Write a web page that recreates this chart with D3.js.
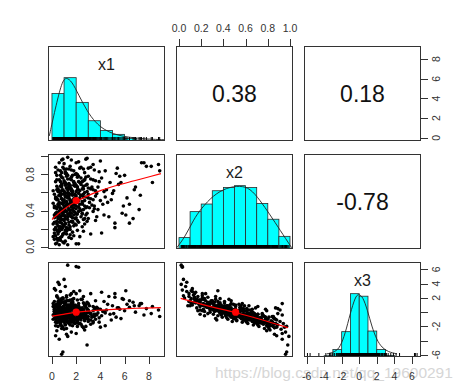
<!DOCTYPE html>
<html><head><meta charset="utf-8">
<script src="https://cdn.jsdelivr.net/npm/d3@7"></script>
<style>body{margin:0;background:#fff}svg{display:block}</style>
</head><body>
<script>
// ---------- data ----------
const varNames = ["x1", "x2", "x3"];
const varRanges = [[0.03, 8.98], [0.012, 0.988], [-5.8, 6.55]];

const corrPairs = [[0, 1], [0, 2], [1, 2]];
const corrValues = ["0.38", "0.18", "-0.78"];

const x1Ticks = [0, 2, 4, 6, 8];
const x2Ticks = [0, 0.2, 0.4, 0.6, 0.8, 1.0];
const x3Ticks = [-6, -4, -2, 0, 2, 4, 6];
const x2LeftLabels = [0, 0.4, 0.8];
const x3RightLabels = [-6, -2, 2, 4, 6];

// histogram bins [lo, hi, relative height]
const histX1 = [[0,1,0.75],[1,2,1.0],[2,3,0.61],[3,4,0.32],[4,5,0.165],[5,6,0.105],[6,7,0.04],[7,8,0.015],[8,9,0.008]];
const histX2 = [[0,0.1,0.18],[0.1,0.2,0.59],[0.2,0.3,0.71],[0.3,0.4,0.92],[0.4,0.5,0.97],[0.5,0.6,1.0],[0.6,0.7,0.97],[0.7,0.8,0.72],[0.8,0.9,0.47],[0.9,1.0,0.2]];
const histX3 = [[-6,-5,0.004],[-5,-4,0.005],[-4,-3,0.02],[-3,-2,0.12],[-2,-1,0.40],[-1,0,1.0],[0,1,0.96],[1,2,0.41],[2,3,0.12],[3,4,0.025],[4,5,0.005],[5,6,0.003],[6,7,0.004]];

// density curves [value, relative density]
const densX1 = [[-0.22,0.08],[0.26,0.5],[0.82,0.94],[1.18,1.01],[1.65,0.94],[2.2,0.73],[2.9,0.47],[3.6,0.29],[4.3,0.18],[5.1,0.11],[5.95,0.07],[6.8,0.05],[7.9,0.03],[9.26,0.02]];
const densX2 = [[-0.02,0.02],[0.054,0.19],[0.13,0.46],[0.20,0.64],[0.31,0.85],[0.43,0.97],[0.55,1.0],[0.64,0.96],[0.73,0.77],[0.82,0.54],[0.91,0.30],[1.015,0.02]];
const densX3 = [[-3.67,0.05],[-2.73,0.08],[-2.16,0.16],[-1.59,0.37],[-1.02,0.69],[-0.45,0.95],[-0.08,1.0],[0.42,0.95],[0.94,0.74],[1.44,0.48],[2.0,0.27],[2.58,0.15],[3.3,0.08],[4.3,0.05]];

// lowess smooths
const lowess21 = [[0.0,0.30],[0.68,0.38],[1.37,0.45],[2.0,0.50],[2.9,0.56],[4.0,0.62],[5.4,0.68],[6.8,0.73],[8.2,0.78],[9.0,0.81]];
const lowess31 = [[0.0,-0.55],[0.95,-0.32],[2.0,0.0],[3.0,0.15],[4.0,0.28],[5.5,0.42],[7.0,0.55],[9.0,0.65]];
const lowess32 = [[0.015,1.95],[0.25,0.93],[0.51,-0.05],[0.73,-1.0],[0.98,-2.17]];
const varMeans = [2.0, 0.51, 0.0];

// observations [x1, x2, x3]
const obs = [
[0.4,0.04,2.3],[1.3,0.02,6.6],[2.0,0.03,6.4],[2.2,0.03,6.3],[0.7,0.07,2.9],[0.2,0.08,0.9],[1.1,0.06,3.6],[0.5,0.09,1.5],[0.9,0.05,2.0],[0.3,0.03,3.1],[1.6,0.09,2.6],[0.6,0.02,3.9],
[0.3,0.12,1.0],[1.2,0.14,2.1],[0.8,0.11,1.9],[2.1,0.18,1.7],[0.5,0.16,0.6],[1.5,0.13,2.4],[0.2,0.19,0.3],[1.0,0.15,1.3],[2.6,0.17,2.2],[0.7,0.10,1.6],[1.8,0.12,2.9],[0.4,0.18,1.1],[1.3,0.19,0.8],[3.2,0.14,2.6],[0.9,0.13,1.4],[0.6,0.17,0.2],[1.7,0.16,1.8],[0.1,0.11,1.2],[1.1,0.18,1.5],[2.3,0.11,3.0],[0.5,0.14,2.0],[1.4,0.10,0.9],[0.8,0.19,-0.3],[4.1,0.15,2.8],
[0.6,0.22,0.9],[1.4,0.24,1.6],[2.2,0.27,1.2],[0.3,0.21,0.2],[1.0,0.29,0.5],[1.8,0.23,1.9],[0.8,0.26,-0.2],[2.9,0.28,1.4],[0.4,0.25,1.1],[1.2,0.21,2.3],[1.6,0.28,0.3],[0.2,0.27,0.6],[2.5,0.22,1.8],[0.9,0.24,0.8],[1.1,0.26,1.4],[3.6,0.29,1.6],[0.5,0.23,-0.5],[1.9,0.25,0.7],[0.7,0.29,1.3],[1.3,0.20,1.0],[2.0,0.24,2.6],[0.4,0.28,0.0],[1.5,0.22,0.4],[5.2,0.26,2.1],[0.6,0.20,1.7],[1.7,0.27,1.1],[1.0,0.23,0.1],[2.7,0.25,0.9],[0.9,0.21,2.0],
[0.5,0.31,0.3],[1.3,0.33,0.9],[2.1,0.36,0.6],[0.8,0.38,-0.4],[1.7,0.32,1.4],[2.8,0.35,1.0],[0.3,0.37,-0.1],[1.1,0.34,0.2],[3.4,0.39,0.8],[1.9,0.31,0.5],[0.6,0.36,1.1],[2.4,0.33,1.8],[1.5,0.38,0.0],[0.9,0.30,0.7],[4.3,0.35,1.5],[1.2,0.39,-0.7],[2.0,0.32,0.2],[0.4,0.34,0.8],[1.6,0.37,1.3],[2.6,0.30,0.4],[0.7,0.33,-0.9],[1.4,0.36,0.5],[3.0,0.31,1.2],[1.0,0.38,0.9],[2.2,0.39,-0.2],[0.2,0.32,0.1],[1.8,0.35,-0.5],[5.8,0.37,1.9],[1.3,0.30,1.6],[0.8,0.34,0.4],[2.5,0.36,0.1],[1.1,0.31,-0.3],[3.7,0.33,0.7],[0.6,0.39,0.6],[1.9,0.38,1.0],[1.5,0.34,-1.1],[2.9,0.37,-0.1],
[0.4,0.42,-0.5],[1.2,0.44,0.2],[2.3,0.47,0.6],[0.9,0.41,-0.1],[1.8,0.48,-0.6],[3.1,0.43,0.9],[0.6,0.46,0.3],[1.5,0.40,0.8],[2.7,0.45,-0.2],[1.0,0.49,-0.9],[2.0,0.42,0.4],[0.3,0.44,-1.0],[1.6,0.47,1.2],[3.8,0.41,0.5],[1.3,0.45,-0.4],[2.5,0.48,0.1],[0.7,0.43,0.6],[1.9,0.46,-0.3],[4.6,0.49,1.1],[1.1,0.40,0.0],[2.2,0.44,0.9],[0.5,0.47,-0.7],[1.4,0.42,0.3],[3.3,0.46,-0.5],[0.8,0.48,0.2],[1.7,0.41,1.5],[2.9,0.44,0.3],[1.0,0.45,0.7],[2.1,0.49,-0.1],[6.4,0.47,1.6],[0.2,0.43,0.1],[1.5,0.48,-1.3],[2.4,0.40,0.0],[1.2,0.46,1.0],[3.5,0.42,-0.3],[0.6,0.49,-0.2],[1.8,0.43,-0.8],[2.6,0.41,1.3],[1.3,0.47,0.4],
[0.5,0.52,-0.6],[1.4,0.54,-0.1],[2.4,0.57,0.3],[0.9,0.51,-1.0],[1.9,0.58,0.5],[3.2,0.53,-0.2],[0.7,0.56,0.2],[1.6,0.50,-0.8],[2.8,0.55,0.7],[1.1,0.59,-0.4],[2.1,0.52,-1.2],[0.4,0.54,0.1],[1.7,0.57,-0.5],[4.0,0.51,0.4],[1.3,0.55,0.6],[2.6,0.58,-0.3],[0.8,0.53,-0.1],[2.0,0.56,-0.9],[5.0,0.59,0.9],[1.2,0.50,0.3],[2.3,0.54,0.0],[0.6,0.57,-1.4],[1.5,0.52,-0.2],[3.6,0.56,0.5],[1.0,0.58,0.1],[1.8,0.51,0.8],[3.0,0.54,-0.6],[1.1,0.55,-0.7],[2.2,0.59,0.2],[7.3,0.57,1.2],[0.3,0.53,-0.3],[1.6,0.58,-1.1],[2.5,0.50,-0.4],[1.4,0.56,0.9],[3.4,0.52,0.2],[0.7,0.59,-0.5],[1.9,0.53,-0.2],[2.7,0.51,1.0],[1.3,0.57,-0.8],[4.4,0.55,-0.1],[2.0,0.50,0.4],
[0.6,0.62,-1.1],[1.5,0.64,-0.5],[2.6,0.67,-0.1],[1.0,0.61,-1.4],[2.0,0.68,-0.2],[3.4,0.63,-0.6],[0.8,0.66,-0.2],[1.7,0.60,-1.2],[3.0,0.65,0.3],[1.2,0.69,-0.9],[2.3,0.62,-1.6],[0.5,0.64,-0.4],[1.9,0.67,-1.0],[4.3,0.61,0.1],[1.4,0.65,0.0],[2.8,0.68,-0.8],[0.9,0.63,-0.5],[2.1,0.66,-1.3],[5.5,0.69,0.6],[1.3,0.60,-0.3],[2.5,0.64,-0.7],[0.7,0.67,-1.8],[1.6,0.62,-0.6],[3.8,0.66,-0.1],[1.1,0.68,-0.4],[2.0,0.61,0.2],[3.2,0.64,-1.1],[1.2,0.65,-1.0],[2.4,0.69,-0.5],[6.8,0.63,0.9],[0.4,0.63,-0.8],[1.8,0.68,-1.5],[2.7,0.60,-0.9],[1.5,0.66,0.4],[3.6,0.62,-0.3],[0.8,0.69,-1.2],[2.2,0.63,-0.2],[2.9,0.61,0.5],[1.4,0.67,-1.3],
[0.7,0.72,-1.5],[1.6,0.74,-0.9],[2.8,0.77,-0.6],[1.1,0.71,-1.8],[2.2,0.78,-0.7],[3.6,0.73,-1.0],[0.9,0.76,-0.5],[1.9,0.70,-1.6],[3.2,0.75,-0.2],[1.3,0.79,-1.4],[2.5,0.72,-2.0],[0.6,0.74,-0.8],[2.1,0.77,-1.2],[4.8,0.71,-0.3],[1.5,0.75,-0.4],[3.0,0.78,-1.3],[1.0,0.73,-1.1],[2.4,0.76,-1.7],[6.0,0.79,0.2],[1.4,0.70,-0.6],[2.7,0.74,-1.1],[0.8,0.77,-2.3],[1.8,0.72,-1.0],[4.1,0.76,-0.5],[1.2,0.78,-0.9],[2.3,0.71,-0.3],[3.4,0.74,-1.5],[1.7,0.79,-1.9],[2.6,0.73,-0.8],
[0.8,0.82,-1.9],[1.8,0.84,-1.3],[3.0,0.87,-1.0],[1.2,0.81,-2.3],[2.4,0.88,-1.1],[3.9,0.83,-1.4],[1.0,0.86,-0.9],[2.1,0.80,-2.0],[3.5,0.85,-0.6],[1.5,0.89,-1.8],[2.7,0.82,-2.5],[0.7,0.84,-1.5],[2.3,0.87,-1.6],[5.3,0.81,-0.7],[1.6,0.85,-0.8],[3.2,0.88,-1.7],[1.1,0.83,-1.2],[2.6,0.86,-2.2],[8.2,0.89,-0.2],[1.9,0.80,-1.0],[4.4,0.84,-1.9],
[1.0,0.92,-2.4],[2.2,0.94,-1.6],[3.4,0.91,-1.3],[1.6,0.96,-2.8],[2.8,0.97,-2.0],[0.9,0.97,-5.6],[0.8,0.96,-5.9],[2.9,0.98,-4.6],[7.6,0.93,-0.4],[8.8,0.91,0.3],[1.3,0.99,-3.4],[4.0,0.95,-2.1],[2.0,0.93,-3.0],
[7.2,0.41,0.9],[6.7,0.31,1.4],[6.4,0.26,0.7],[7.8,0.89,0.5],[8.3,0.71,0.8],[6.2,0.54,1.1],[5.6,0.78,0.4],[5.9,0.45,1.8],[5.1,0.62,-0.2],[4.7,0.33,2.2],[6.9,0.66,0.0],[5.4,0.87,0.6],[8.9,0.84,-0.6],[6.1,0.35,3.0],[5.2,0.21,2.6],[7.4,0.93,1.2],[4.9,0.52,-1.1],[5.7,0.71,-0.9],
[0.3,0.88,-3.3],[0.6,0.93,-3.8],[1.2,0.86,-3.1],[0.4,0.79,-2.6],[0.2,0.12,3.3],[0.5,0.07,4.2],[1.0,0.04,4.6],
[0.2,0.35,0.4],[0.3,0.55,-0.7],[0.1,0.62,-1.0],[0.2,0.45,-0.2],[0.1,0.25,0.8],[0.3,0.72,-1.4],[0.2,0.15,1.5],[0.1,0.48,-0.4],[0.3,0.82,-1.9],[0.2,0.58,-0.9],
[0.4,0.38,0.3],[0.5,0.61,-0.8],[0.4,0.52,-0.3],[0.6,0.27,0.9],[0.5,0.44,0.0],[0.4,0.67,-1.2],[0.6,0.19,1.4],[0.5,0.33,0.5],[0.4,0.74,-1.5],[0.6,0.57,-0.6],[0.5,0.85,-2.0],[0.4,0.09,2.2],
[0.7,0.41,0.1],[0.8,0.58,-0.5],[0.7,0.31,0.6],[0.9,0.47,-0.3],[0.8,0.69,-1.0],[0.7,0.22,1.2],[0.9,0.36,0.4],[0.8,0.53,-0.2],[0.7,0.79,-1.6],[0.9,0.14,1.8],[0.8,0.62,-0.9],[0.9,0.88,-2.1],
[1.0,0.43,0.2],[1.1,0.56,-0.4],[1.0,0.34,0.7],[1.2,0.65,-0.8],[1.1,0.25,1.1],[1.0,0.71,-1.3],[1.2,0.49,-0.1],[1.1,0.39,0.4],[1.0,0.61,-0.6],[1.2,0.17,1.6],[1.1,0.81,-1.7],[1.0,0.52,0.1],
[1.3,0.46,0.0],[1.4,0.59,-0.3],[1.3,0.36,0.6],[1.5,0.68,-0.9],[1.4,0.27,1.0],[1.3,0.75,-1.2],[1.5,0.51,-0.5],[1.4,0.41,0.3],[1.3,0.63,-0.7],[1.5,0.19,1.7],[1.4,0.86,-1.6],[1.3,0.54,0.2],
[1.6,0.44,0.4],[1.7,0.62,-0.5],[1.6,0.33,0.8],[1.8,0.71,-1.1],[1.7,0.28,1.3],[1.6,0.77,-1.4],[1.8,0.53,0.0],[1.7,0.46,-0.2],[1.6,0.64,-0.9],[1.8,0.39,0.6],[1.9,0.57,-0.4],
[2.0,0.45,0.3],[2.1,0.63,-0.6],[2.0,0.36,0.9],[2.2,0.72,-1.0],[2.1,0.29,0.6],[2.0,0.81,-1.5],[2.2,0.51,-0.2],[2.3,0.42,0.5],[2.1,0.66,-0.3],[2.4,0.57,-0.8],
[2.5,0.47,0.0],[2.6,0.64,-0.5],[2.5,0.37,0.6],[2.7,0.74,-1.2],[2.6,0.55,0.3],[2.8,0.43,-0.4],[2.9,0.69,-0.9],[2.7,0.31,1.1],[3.0,0.58,0.2],[3.1,0.49,-0.1],[3.3,0.66,-0.7],[3.5,0.45,0.6],[3.7,0.59,-0.4],[3.9,0.72,-0.8],[4.2,0.47,0.1],[4.5,0.63,0.3]
];

// ---------- layout ----------
const FONT = "'Liberation Sans', Arial, Helvetica, sans-serif";
const lefts = [48, 176, 304], tops = [46, 154, 262];
const PW = 117, PH = 95;
const ext = r => { const d = r[1] - r[0]; return [r[0] - 0.04 * d, r[1] + 0.04 * d]; };
const xs = varRanges.map((r, i) => d3.scaleLinear().domain(ext(r)).range([lefts[i], lefts[i] + PW]));
const ys = varRanges.map((r, i) => d3.scaleLinear().domain(ext(r)).range([tops[i] + PH, tops[i]]));

const svg = d3.select("body").append("svg").attr("width", 466).attr("height", 390)
  .style("font-family", FONT);

// watermark
svg.append("text").attr("x", 215).attr("y", 378).attr("font-size", 15.5)
  .attr("fill", "#d6d6d6").text("https://blog.csdn.net/qq_19600291");

const defs = svg.append("defs");
for (let r = 0; r < 3; r++) for (let c = 0; c < 3; c++) {
  defs.append("clipPath").attr("id", `clip${r}${c}`).append("rect")
    .attr("x", lefts[c]).attr("y", tops[r]).attr("width", PW).attr("height", PH);
}

// diagonal panels
const hists = [histX1, histX2, histX3];
const dens = [densX1, densX2, densX3];
for (let i = 0; i < 3; i++) {
  const hy = d3.scaleLinear().domain([0, 1.5]).range([tops[i] + PH, tops[i]]);
  const g = svg.append("g").attr("clip-path", `url(#clip${i}${i})`);
  g.selectAll("rect.bar").data(hists[i]).join("rect").attr("class", "bar")
    .attr("x", d => xs[i](d[0])).attr("width", d => xs[i](d[1]) - xs[i](d[0]))
    .attr("y", d => hy(d[2])).attr("height", d => hy(0) - hy(d[2]))
    .attr("fill", "#00ffff").attr("stroke", "#2a2a2a").attr("stroke-width", 0.8);
  g.append("path").datum(dens[i])
    .attr("d", d3.line().curve(d3.curveBasis).x(d => xs[i](d[0])).y(d => hy(d[1])))
    .attr("fill", "none").attr("stroke", "#222").attr("stroke-width", 0.9);
  g.selectAll("line.rug").data(obs).join("line").attr("class", "rug")
    .attr("x1", d => xs[i](d[i])).attr("x2", d => xs[i](d[i]))
    .attr("y1", hy(0)).attr("y2", hy(0) - 4)
    .attr("stroke", "#000").attr("stroke-width", 1);
  svg.append("text").attr("x", lefts[i] + PW / 2).attr("y", tops[i] + 23.5)
    .attr("text-anchor", "middle").attr("font-size", 16).attr("fill", "#1a1a1a")
    .text(varNames[i]);
}

// correlation panels
corrPairs.forEach((p, k) => {
  const [r, c] = p;
  svg.append("text").attr("x", lefts[c] + PW / 2).attr("y", tops[r] + PH / 2)
    .attr("dy", "0.36em").attr("text-anchor", "middle").attr("font-size", 23)
    .attr("fill", "#111").text(corrValues[k]);
});

// scatter panels
const smooths = { "10": lowess21, "20": lowess31, "21": lowess32 };
[[1, 0], [2, 0], [2, 1]].forEach(([r, c]) => {
  const g = svg.append("g").attr("clip-path", `url(#clip${r}${c})`);
  g.selectAll("circle.pt").data(obs).join("circle").attr("class", "pt")
    .attr("cx", d => xs[c](d[c])).attr("cy", d => ys[r](d[r])).attr("r", 1.8)
    .attr("fill", "#000");
  g.append("path").datum(smooths[`${r}${c}`])
    .attr("d", d3.line().curve(d3.curveMonotoneX).x(d => xs[c](d[0])).y(d => ys[r](d[1])))
    .attr("fill", "none").attr("stroke", "#ff0000").attr("stroke-width", 1.2);
  g.append("circle").attr("cx", xs[c](varMeans[c])).attr("cy", ys[r](varMeans[r]))
    .attr("r", 3.6).attr("fill", "#ff0000");
});

// panel boxes
for (let r = 0; r < 3; r++) for (let c = 0; c < 3; c++) {
  svg.append("rect").attr("x", lefts[c] + 0.5).attr("y", tops[r] + 0.5)
    .attr("width", PW - 1).attr("height", PH - 1)
    .attr("fill", "none").attr("stroke", "#333").attr("stroke-width", 1);
}

// axes
const TL = 7, TS = 10.5, TC = "#333";
function hAxis(scale, ticks, yEdge, dir, fmt) {
  const g = svg.append("g");
  g.selectAll("line").data(ticks).join("line")
    .attr("x1", d => Math.round(scale(d)) + 0.5).attr("x2", d => Math.round(scale(d)) + 0.5)
    .attr("y1", yEdge).attr("y2", yEdge + dir * TL).attr("stroke", TC);
  g.selectAll("text").data(ticks).join("text")
    .attr("x", d => scale(d)).attr("y", dir < 0 ? yEdge - 14.5 : yEdge + 23)
    .attr("text-anchor", "middle").attr("font-size", TS).attr("fill", TC)
    .text(fmt);
}
function vAxis(scale, ticks, labels, xEdge, dir, fmt) {
  const g = svg.append("g");
  g.selectAll("line").data(ticks).join("line")
    .attr("y1", d => Math.round(scale(d)) + 0.5).attr("y2", d => Math.round(scale(d)) + 0.5)
    .attr("x1", xEdge).attr("x2", xEdge + dir * TL).attr("stroke", TC);
  const bx = dir < 0 ? xEdge - 14.5 : xEdge + 18.5;
  g.selectAll("text").data(labels).join("text")
    .attr("transform", d => `translate(${bx},${scale(d)}) rotate(-90)`)
    .attr("text-anchor", "middle").attr("font-size", TS).attr("fill", TC)
    .text(fmt);
}
const f1 = d3.format(".1f"), f0 = d => String(d);
hAxis(xs[1], x2Ticks, tops[0], -1, f1);                 // top of column 2
hAxis(xs[0], x1Ticks, tops[2] + PH, 1, f0);             // bottom of column 1
hAxis(xs[2], x3Ticks, tops[2] + PH, 1, f0);             // bottom of column 3
vAxis(ys[0], x1Ticks, x1Ticks, lefts[2] + PW, 1, f0);   // right of row 1
vAxis(ys[1], x2Ticks, x2LeftLabels, lefts[0], -1, f1);  // left of row 2
vAxis(ys[2], x3Ticks, x3RightLabels, lefts[2] + PW, 1, f0); // right of row 3
</script>
</body></html>
